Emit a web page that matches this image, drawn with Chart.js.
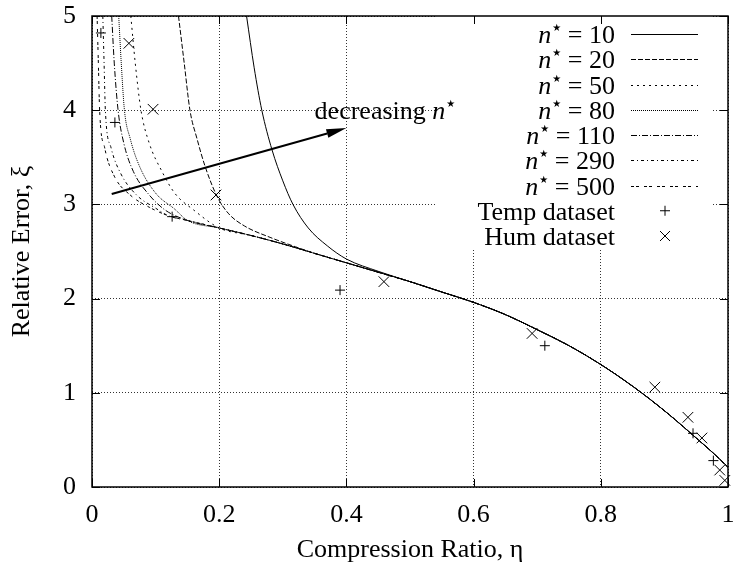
<!DOCTYPE html>
<html lang="en">
<head>
<meta charset="UTF-8">
<title>Relative Error vs Compression Ratio</title>
<script src="https://cdn.jsdelivr.net/npm/chart.js"></script>
<style>
  html, body { margin: 0; padding: 0; background: #fff; }
  canvas { display: block; }
</style>
</head>
<body>
<canvas id="errChart" width="739" height="569"></canvas>
<script>
const FONT = "'Liberation Serif', 'Times New Roman', serif";
const FS = 26;

const xTicks = [0, 0.2, 0.4, 0.6, 0.8, 1];
const xTickLabels = ['0', '0.2', '0.4', '0.6', '0.8', '1'];
const yTicks = [0, 1, 2, 3, 4, 5];
const yTickLabels = ['0', '1', '2', '3', '4', '5'];

const nStar = [10, 20, 50, 80, 110, 290, 500];

// part of the curve where every n* collapses onto the same line
const tailEta = [0.12, 0.15, 0.2, 0.25, 0.3, 0.35, 0.4, 0.45, 0.5, 0.55, 0.6, 0.65, 0.7, 0.75, 0.8, 0.85, 0.9, 0.95, 0.98, 1.0];
const tailXi  = [2.88, 2.83, 2.75, 2.67, 2.58, 2.48, 2.38, 2.28, 2.18, 2.07, 1.96, 1.83, 1.67, 1.50, 1.30, 1.07, 0.81, 0.52, 0.34, 0.21];

// the steep left branch of each curve
const eta10  = [0.243, 0.255, 0.267, 0.283, 0.30, 0.316, 0.34, 0.37, 0.40, 0.45];
const xi10   = [5.0, 4.45, 4.0, 3.58, 3.25, 3.0, 2.75, 2.56, 2.42, 2.29];
const eta20  = [0.136, 0.145, 0.154, 0.165, 0.178, 0.197, 0.215, 0.24, 0.28, 0.32];
const xi20   = [5.0, 4.5, 4.0, 3.7, 3.4, 3.08, 2.9, 2.77, 2.65, 2.55];
const eta50  = [0.061, 0.068, 0.077, 0.09, 0.11, 0.13, 0.16];
const xi50   = [5.0, 4.5, 4.0, 3.65, 3.35, 3.12, 2.94];
const eta80  = [0.042, 0.046, 0.051, 0.06, 0.075, 0.10, 0.13];
const xi80   = [5.0, 4.5, 4.0, 3.7, 3.4, 3.12, 2.95];
const eta110 = [0.031, 0.035, 0.041, 0.05, 0.065, 0.09, 0.115];
const xi110  = [5.0, 4.5, 4.0, 3.65, 3.35, 3.1, 2.94];
const eta290 = [0.017, 0.019, 0.021, 0.03, 0.045, 0.07, 0.10];
const xi290  = [5.0, 4.5, 4.0, 3.6, 3.33, 3.1, 2.96];
const eta500 = [0.008, 0.010, 0.012, 0.02, 0.035, 0.06, 0.09];
const xi500  = [5.0, 4.5, 4.0, 3.6, 3.3, 3.1, 2.97];

const tempEta = [0.014, 0.036, 0.126, 0.39, 0.712, 0.945, 0.977];
const tempXi  = [4.82, 3.87, 2.87, 2.09, 1.50, 0.57, 0.28];
const humEta  = [0.058, 0.096, 0.195, 0.459, 0.692, 0.885, 0.937, 0.959, 0.987, 0.995];
const humXi   = [4.71, 4.01, 3.10, 2.18, 1.63, 1.06, 0.74, 0.52, 0.18, 0.07];

// annotation arrow, data units
const arrowFrom = [0.031, 3.11];
const arrowTo   = [0.40, 3.81];
const arrowLabelAt = [0.35, 4.0];

const heads = [[eta10, xi10], [eta20, xi20], [eta50, xi50], [eta80, xi80], [eta110, xi110], [eta290, xi290], [eta500, xi500]];
const dashes = [[], [5, 2], [2, 4], [1, 1], [6, 2, 1, 2], [3, 3, 1, 3], [3, 2, 3, 5]];

function curve(he, hx) {
  const pts = he.map((e, i) => ({ x: e, y: hx[i] }));
  const last = he[he.length - 1];
  tailEta.forEach((e, i) => { if (e > last + 0.01) pts.push({ x: e, y: tailXi[i] }); });
  return pts;
}

const datasets = heads.map((h, i) => ({
  label: 'n* = ' + nStar[i],
  data: curve(h[0], h[1]),
  showLine: true,
  borderColor: '#000',
  borderWidth: 1,
  borderDash: dashes[i],
  pointRadius: 0,
  cubicInterpolationMode: 'monotone'
}));

datasets.push({
  label: 'Temp dataset',
  data: tempEta.map((e, i) => ({ x: e, y: tempXi[i] })),
  pointStyle: 'cross',
  pointRadius: 5,
  borderColor: '#000',
  borderWidth: 1,
  clip: false
});
datasets.push({
  label: 'Hum dataset',
  data: humEta.map((e, i) => ({ x: e, y: humXi[i] })),
  pointStyle: 'crossRot',
  pointRadius: 7.5,
  borderColor: '#000',
  borderWidth: 1,
  clip: false
});

const STAR_FONT = '10px "DejaVu Sans"';

// italic n, raised star, then the rest
function drawNStar(ctx, x, baseline, tail, alignRight) {
  ctx.font = 'italic ' + FS + 'px ' + FONT;
  const wn = ctx.measureText('n').width;
  ctx.font = STAR_FONT;
  const ws = ctx.measureText('\u2605').width;
  ctx.font = FS + 'px ' + FONT;
  const wt = ctx.measureText(tail).width;
  if (alignRight) x -= wn + ws + 1 + wt;
  ctx.textAlign = 'left';
  ctx.textBaseline = 'alphabetic';
  ctx.font = 'italic ' + FS + 'px ' + FONT;
  ctx.fillText('n', x, baseline);
  x += wn + 1;
  ctx.font = STAR_FONT;
  ctx.fillText('\u2605', x, baseline - 12);
  x += ws;
  ctx.font = FS + 'px ' + FONT;
  ctx.fillText(tail, x, baseline);
}

const framePlugin = {
  id: 'frame',
  beforeDatasetsDraw(chart) {
    // opaque key box hides the grid under it
    const ctx = chart.ctx;
    ctx.save();
    ctx.fillStyle = '#fff';
    ctx.fillRect(437, chart.chartArea.top, 276, 232);
    ctx.restore();
  },
  afterDraw(chart) {
    const ctx = chart.ctx;
    const a = chart.chartArea;
    const xs = chart.scales.x, ys = chart.scales.y;
    ctx.save();
    ctx.strokeStyle = '#000';
    ctx.fillStyle = '#000';

    // border + inward ticks on all sides
    ctx.lineWidth = 1.5;
    ctx.strokeRect(a.left, a.top, a.right - a.left, a.bottom - a.top);
    ctx.lineWidth = 1;
    ctx.beginPath();
    xTicks.forEach(v => {
      const px = Math.round(xs.getPixelForValue(v)) + 0.5;
      ctx.moveTo(px, a.bottom); ctx.lineTo(px, a.bottom - 8);
      ctx.moveTo(px, a.top); ctx.lineTo(px, a.top + 8);
    });
    yTicks.forEach(v => {
      const py = Math.round(ys.getPixelForValue(v)) + 0.5;
      ctx.moveTo(a.left, py); ctx.lineTo(a.left + 8, py);
      ctx.moveTo(a.right, py); ctx.lineTo(a.right - 8, py);
    });
    ctx.stroke();

    // arrow
    const x0 = xs.getPixelForValue(arrowFrom[0]), y0 = ys.getPixelForValue(arrowFrom[1]);
    const x1 = xs.getPixelForValue(arrowTo[0]), y1 = ys.getPixelForValue(arrowTo[1]);
    const ang = Math.atan2(y1 - y0, x1 - x0);
    const hl = 20, hw = 4.5;
    const bx = x1 - hl * Math.cos(ang), by = y1 - hl * Math.sin(ang);
    ctx.lineWidth = 2;
    ctx.beginPath();
    ctx.moveTo(x0, y0);
    ctx.lineTo(bx, by);
    ctx.stroke();
    ctx.beginPath();
    ctx.moveTo(x1, y1);
    ctx.lineTo(bx - hw * Math.sin(ang), by + hw * Math.cos(ang));
    ctx.lineTo(bx + hw * Math.sin(ang), by - hw * Math.cos(ang));
    ctx.closePath();
    ctx.fill();

    // arrow label
    const lx = xs.getPixelForValue(arrowLabelAt[0]);
    const ly = ys.getPixelForValue(arrowLabelAt[1]) + 9;
    ctx.font = FS + 'px ' + FONT;
    ctx.textAlign = 'left';
    ctx.textBaseline = 'alphabetic';
    const wd = ctx.measureText('decreasing ').width;
    ctx.fillText('decreasing ', lx, ly);
    drawNStar(ctx, lx + wd, ly, '', false);

    // key
    const textRight = 615, s0 = 631, s1 = 698, mid = 665;
    for (let i = 0; i < 9; i++) {
      const y = 34 + i * 25.25;
      const base = y + 9;
      if (i < nStar.length) {
        drawNStar(ctx, textRight, base, ' = ' + nStar[i], true);
        ctx.lineWidth = 1;
        ctx.setLineDash(dashes[i]);
        ctx.beginPath();
        ctx.moveTo(s0, Math.round(y) + 0.5);
        ctx.lineTo(s1, Math.round(y) + 0.5);
        ctx.stroke();
        ctx.setLineDash([]);
      } else {
        const ds = chart.data.datasets[i];
        ctx.font = FS + 'px ' + FONT;
        ctx.textAlign = 'right';
        ctx.fillText(ds.label, textRight, base);
        ctx.lineWidth = 1;
        ctx.beginPath();
        if (i === 7) {
          ctx.moveTo(mid - 5, y); ctx.lineTo(mid + 5, y);
          ctx.moveTo(mid, y - 5); ctx.lineTo(mid, y + 5);
        } else {
          ctx.moveTo(mid - 5, y - 5); ctx.lineTo(mid + 5, y + 5);
          ctx.moveTo(mid - 5, y + 5); ctx.lineTo(mid + 5, y - 5);
        }
        ctx.stroke();
      }
    }
    ctx.restore();
  }
};

function noPad(s) {
  s.paddingTop = 0; s.paddingBottom = 0; s.paddingLeft = 0; s.paddingRight = 0;
}

new Chart(document.getElementById('errChart'), {
  type: 'scatter',
  data: { datasets: datasets },
  plugins: [framePlugin],
  options: {
    responsive: false,
    animation: false,
    devicePixelRatio: 1,
    layout: { padding: { left: 0, top: 16, right: 11, bottom: 0 } },
    plugins: { legend: { display: false }, tooltip: { enabled: false } },
    scales: {
      x: {
        type: 'linear',
        min: 0, max: 1,
        afterBuildTicks: s => { s.ticks = xTicks.map(v => ({ value: v })); },
        afterFit: s => { s.height = 82; noPad(s); },
        grid: { color: '#333', lineWidth: 1, drawTicks: false },
        border: { display: false, dash: [1, 2] },
        ticks: {
          color: '#000', padding: 13, maxRotation: 0,
          font: { family: FONT, size: FS },
          callback: (v, i) => xTickLabels[i]
        },
        title: {
          display: true,
          text: 'Compression Ratio, \u03B7',
          color: '#000',
          padding: { top: 0, bottom: 3 },
          font: { family: FONT, size: FS }
        }
      },
      y: {
        type: 'linear',
        min: 0, max: 5,
        afterBuildTicks: s => { s.ticks = yTicks.map(v => ({ value: v })); },
        afterFit: s => { s.width = 92; noPad(s); },
        grid: { color: '#333', lineWidth: 1, drawTicks: false },
        border: { display: false, dash: [1, 2] },
        ticks: {
          color: '#000', padding: 16,
          font: { family: FONT, size: FS },
          callback: (v, i) => yTickLabels[i]
        },
        title: {
          display: true,
          text: 'Relative Error, \u03BE',
          color: '#000',
          padding: { top: 7, bottom: 0 },
          font: { family: FONT, size: FS }
        }
      }
    }
  }
});
</script>
</body>
</html>
